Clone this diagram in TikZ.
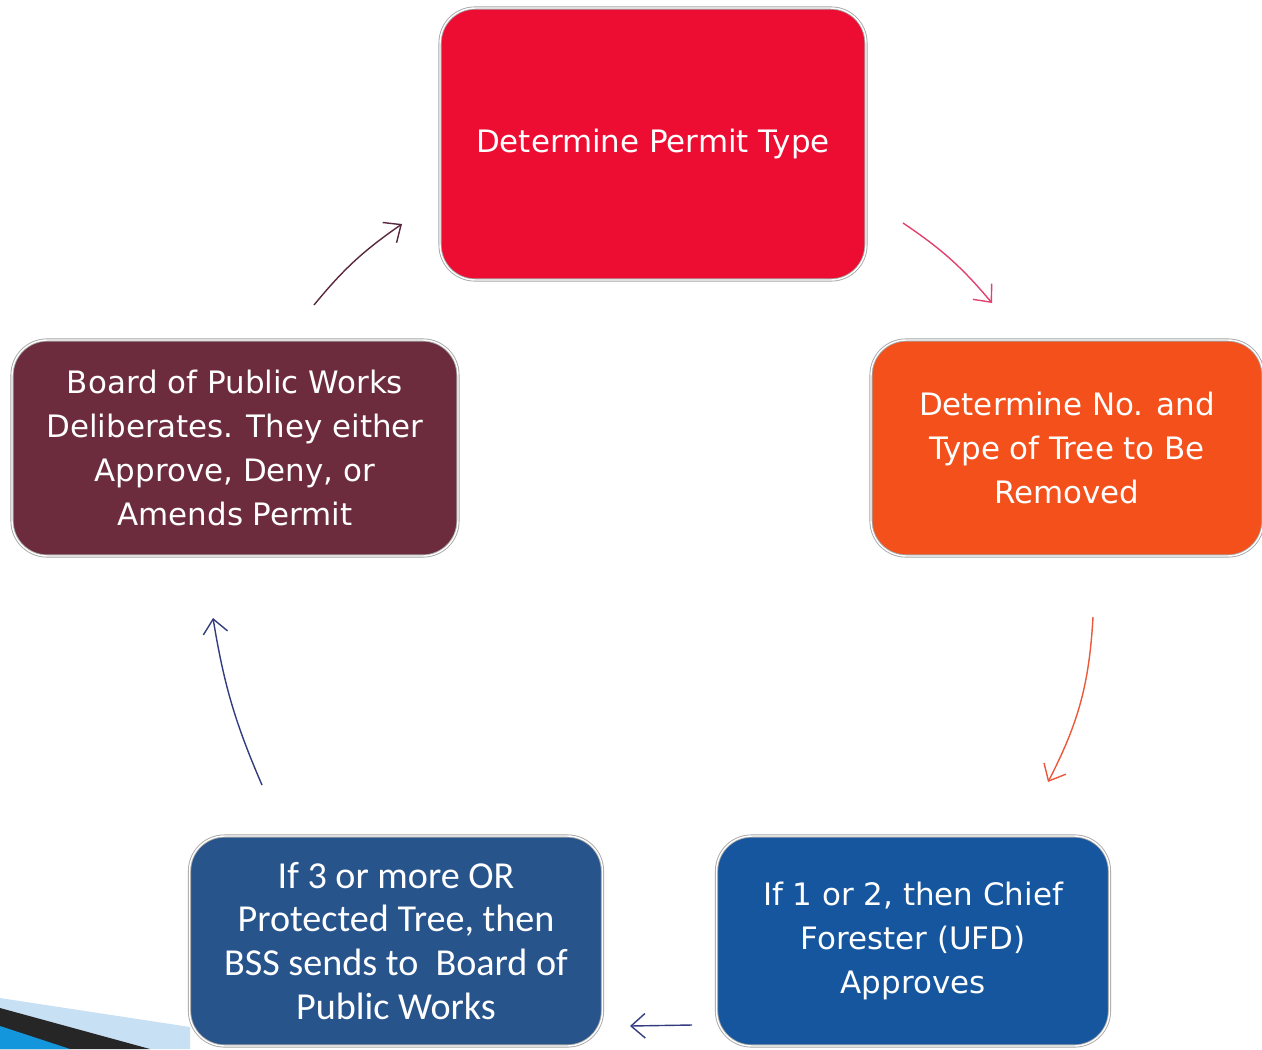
\documentclass[tikz,border=0pt]{standalone}
\usepackage{fontspec}
\setmainfont{DejaVu Sans}
\newfontfamily\calibrifont{Carlito}
\usetikzlibrary{arrows.meta,shapes,calc,positioning}
\definecolor{permitred}{RGB}{237,12,50}
\definecolor{treeorange}{RGB}{243,80,28}
\definecolor{boardmaroon}{RGB}{108,44,62}
\definecolor{bssblue}{RGB}{40,84,140}
\definecolor{ufdblue}{RGB}{22,86,158}
\definecolor{arrowmaroon}{RGB}{90,40,62}
\definecolor{arrowpink}{RGB}{226,66,110}
\definecolor{arroworange}{RGB}{236,88,58}
\definecolor{arrowblue}{RGB}{52,60,128}
\definecolor{swooshpale}{RGB}{200,224,244}
\definecolor{swooshblue}{RGB}{20,150,220}
\tikzset{
  stage/.style={rounded corners=0.7cm, draw=gray!70, double=white, double distance=0.8pt,
    line width=0.5pt, text=white, align=center, inner sep=0pt,
    font=\fontsize{17.6}{25}\selectfont},
  flow/.style={-{Straight Barb[length=8pt,width=14pt]}, line width=0.8pt},
}
\begin{document}
\begin{tikzpicture}[x=0.02cm,y=-0.02cm]
 \useasboundingbox (0,0) rectangle (1262,1049);
%swoosh
 \fill[swooshpale] (0,998) -- (190,1027) -- (190,1049) -- (0,1049) -- cycle;
 \fill[black!85] (0,1008) -- (150,1049) -- (0,1049) -- cycle;
 \fill[swooshblue] (0,1026) -- (70,1049) -- (0,1049) -- cycle;
%stages
 \node[stage, fill=permitred, minimum width=8.52cm, minimum height=5.44cm] (type) at (653,144) {Determine Permit Type};
 \node[stage, fill=treeorange, minimum width=7.84cm, minimum height=4.32cm] (trees) at (1067,448) {Determine No. and\\Type of Tree to Be\\Removed};
 \node[stage, fill=ufdblue, minimum width=7.86cm, minimum height=4.2cm] (ufd) at (913,941) {If 1 or 2, then Chief\\Forester (UFD)\\Approves};
 \node[stage, fill=bssblue, minimum width=8.26cm, minimum height=4.2cm,
   font=\calibrifont\fontsize{21.7}{25}\selectfont] (bss) at (396,941) {If 3 or more OR\\Protected Tree, then\\BSS sends to\ \ Board of\\Public Works};
 \node[stage, fill=boardmaroon, minimum width=8.92cm, minimum height=4.32cm] (board) at (235,448) {Board of Public Works\\Deliberates. They either\\Approve, Deny, or\\Amends Permit};
%arrows
 \coordinate (a1s) at (314,305); \coordinate (a1e) at (402,224);
 \coordinate (a2s) at (903,223); \coordinate (a2e) at (992,303);
 \coordinate (a3s) at (1093,617); \coordinate (a3e) at (1048,782);
 \coordinate (a4s) at (692,1025); \coordinate (a4e) at (630,1026);
 \coordinate (a5s) at (262,785); \coordinate (a5e) at (213,618);
 \draw[flow, arrowmaroon] (a1s) to[bend left=8] (a1e);
 \draw[flow, arrowpink] (a2s) to[bend left=8] (a2e);
 \draw[flow, arroworange] (a3s) to[bend left=12] (a3e);
 \draw[flow, arrowblue] (a4s) -- (a4e);
 \draw[flow, arrowblue] (a5s) to[bend left=7] (a5e);
\end{tikzpicture}
\end{document}
